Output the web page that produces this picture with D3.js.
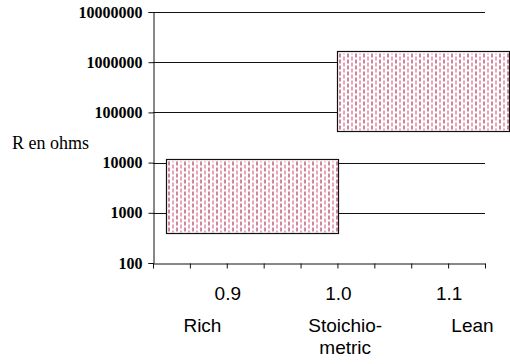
<!DOCTYPE html>
<html>
<head>
<meta charset="utf-8">
<script src="https://cdn.jsdelivr.net/npm/d3@7"></script>
<style>
  body { margin: 0; background: #fff; }
</style>
</head>
<body>
<script>
// ranges of resistance per mixture zone
const zones = ["Rich", "Lean"];
const zoneX0 = [0.845, 1.0];
const zoneX1 = [1.0, 1.155];
const zoneLow = [400, 42000];
const zoneHigh = [12000, 1660000];

const yTicks = [100, 1000, 10000, 100000, 1000000, 10000000];
const xLabels = [0.9, 1.0, 1.1];
const zoneNames = [["Rich"], ["Stoichio-", "metric"], ["Lean"]];
const zoneNameAt = [0.878, 1.007, 1.122];

const m = { left: 153, right: 485, top: 12, bottom: 263 };

const svg = d3.select("body").append("svg")
  .attr("width", 510)
  .attr("height", 364);

const x = d3.scaleLinear().domain([0.9 - 2 / 30, 1.1 + 1 / 30]).range([m.left, m.right]);
const y = d3.scaleLog().domain([100, 10000000]).range([m.bottom, m.top]);

// gridlines
svg.append("g")
  .selectAll("line")
  .data(yTicks.slice(1))
  .join("line")
  .attr("x1", m.left)
  .attr("x2", m.right)
  .attr("y1", (d) => Math.round(y(d)) + 0.5)
  .attr("y2", (d) => Math.round(y(d)) + 0.5)
  .attr("stroke", "#111");

// y axis
const yaxis = d3.axisLeft(y)
  .tickValues(yTicks)
  .tickFormat(d3.format("d"))
  .tickSize(5)
  .tickPadding(6);
const gy = svg.append("g")
  .attr("transform", `translate(${m.left + 0.5},0)`)
  .call(yaxis);
gy.select(".domain").attr("stroke", "#111");
gy.selectAll(".tick line").attr("stroke", "#111");
gy.selectAll(".tick text")
  .attr("font-family", "Liberation Serif, Times New Roman, serif")
  .attr("font-weight", "bold")
  .attr("font-size", 16)
  .attr("fill", "#000");

// x axis
const xTickVals = d3.range(10).map((i) => 0.9 - 2 / 30 + i / 30);
const xaxis = d3.axisBottom(x)
  .tickValues(xTickVals)
  .tickFormat("")
  .tickSize(5)
  .tickSizeOuter(0);
const gx = svg.append("g")
  .attr("transform", `translate(0,${m.bottom + 0.5})`)
  .call(xaxis);
gx.select(".domain").attr("stroke", "#111");
gx.selectAll(".tick line").attr("stroke", "#111");

// zone boxes, white fill + dashed red hatching
const boxes = zones.map((z, i) => ({
  name: z,
  x: Math.round(x(zoneX0[i])) + 0.5,
  y: Math.round(y(zoneHigh[i])) + 0.5,
  w: Math.round(x(zoneX1[i]) - x(zoneX0[i])),
  h: Math.round(y(zoneLow[i]) - y(zoneHigh[i]))
}));

const boxG = svg.append("g")
  .selectAll("g")
  .data(boxes)
  .join("g");

boxG.append("rect")
  .attr("x", (d) => d.x)
  .attr("y", (d) => d.y)
  .attr("width", (d) => d.w)
  .attr("height", (d) => d.h)
  .attr("fill", "#fff");

boxG.each(function (b) {
  const cols = d3.range(b.x + 2.5, b.x + b.w - 1, 4);
  d3.select(this).selectAll("line.hatch")
    .data(cols)
    .join("line")
    .attr("class", "hatch")
    .attr("x1", (c) => c)
    .attr("x2", (c) => c)
    .attr("y1", b.y + 2)
    .attr("y2", b.y + b.h - 1)
    .attr("stroke", (c, k) => (k % 2 ? "#d4496f" : "#9e0f3a"))
    .attr("stroke-width", 1)
    .attr("stroke-dasharray", "4,2")
    .attr("stroke-dashoffset", (c, k) => (k % 2 ? 3 : 0));
});

boxG.append("rect")
  .attr("x", (d) => d.x)
  .attr("y", (d) => d.y)
  .attr("width", (d) => d.w)
  .attr("height", (d) => d.h)
  .attr("fill", "none")
  .attr("stroke", "#111")
  .attr("stroke-width", 1.2);

// x value labels
svg.append("g")
  .selectAll("text")
  .data(xLabels)
  .join("text")
  .attr("x", (d) => x(d) + 1)
  .attr("y", 300)
  .attr("text-anchor", "middle")
  .attr("font-family", "Liberation Sans, Arial, sans-serif")
  .attr("font-size", 19)
  .text((d) => d.toFixed(1));

// zone names
const names = svg.append("g")
  .selectAll("text")
  .data(zoneNames)
  .join("text")
  .attr("text-anchor", "middle")
  .attr("font-family", "Liberation Sans, Arial, sans-serif")
  .attr("font-size", 19);
names.each(function (lines, i) {
  d3.select(this).selectAll("tspan")
    .data(lines)
    .join("tspan")
    .attr("x", x(zoneNameAt[i]))
    .attr("y", (d, j) => 332 + j * 22)
    .text((d) => d);
});

// y title
svg.append("text")
  .attr("x", 12)
  .attr("y", 149)
  .attr("font-family", "Liberation Serif, Times New Roman, serif")
  .attr("font-size", 18)
  .text("R en ohms");
</script>
</body>
</html>
